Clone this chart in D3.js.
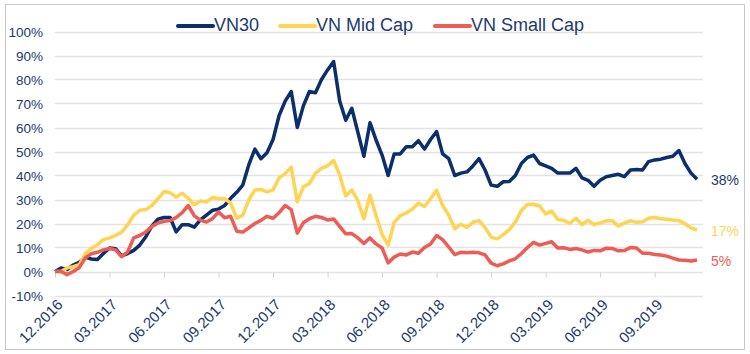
<!DOCTYPE html>
<html>
<head>
<meta charset="utf-8">
<script src="https://cdn.jsdelivr.net/npm/d3@7"></script>
<style>
    body { margin: 0; background: #fff; }
    text { font-family: "Liberation Sans", Arial, sans-serif; }
</style>
</head>
<body>
<svg id="chart"></svg>
<script>
// quarter tick labels, one every 3 months
var tickLabels = ['12.2016', '03.2017', '06.2017', '09.2017', '12.2017', '03.2018',
    '06.2018', '09.2018', '12.2018', '03.2019', '06.2019', '09.2019'];
var monthsPerPoint = 1 / 3;

var seriesNames = ['VN30', 'VN Mid Cap', 'VN Small Cap'];

var vn30 = [0, 1.5, 0.8, 2.7, 3.8, 6.0, 5.2, 5.0, 7.5, 9.8, 9.5, 6.5, 7.5, 8.8, 11, 14.5,
    19, 21.8, 22.5, 22.5, 16.5, 19.5, 19.5, 18.5, 21.5, 23.5, 25.5, 26, 27.5, 30.5, 33, 36,
    44.5, 51, 47, 49.5, 55, 65, 71, 75, 60, 69, 75, 74.5, 80, 84, 87.5, 71, 63, 68, 58, 48,
    62, 54.8, 48.5, 40, 49, 49, 52, 52, 54.5, 51, 55, 58.3, 49, 47, 40, 41, 41.5, 44, 47,
    42.3, 36, 35.5, 37.4, 37.5, 40, 45, 47.5, 48.5, 45, 44, 43, 41, 41, 41, 43, 39, 38,
    35.5, 38, 39.5, 40, 40.5, 39.5, 42.3, 42.5, 42.3, 45.8, 46.5, 46.8, 47.5, 48, 50.4, 45,
    41, 38.4];

var midCap = [0, 0, 1.5, 2, 2.8, 7.5, 9.6, 11.2, 13.3, 14, 15, 16.4, 19.5, 23.5, 25.5, 25.8,
    27.5, 30.3, 33.3, 32.8, 31, 32.6, 30.5, 27.8, 29.4, 29, 30.8, 30.3, 30.4, 28.5, 22.2,
    23.5, 29.8, 34, 34.2, 33.2, 34, 39, 40.8, 43.5, 29, 35.3, 36.6, 41, 43, 44, 46.3, 40.2,
    31.5, 34, 29.5, 22, 31.8, 23.3, 15.5, 11, 20.5, 23.3, 24.4, 26, 28.4, 27.1, 30.3, 33.8,
    27.5, 23.5, 17.8, 19.7, 18.4, 20.5, 21.2, 18.3, 14.3, 13.6, 15.4, 17.4, 20.7, 25.4, 27.9,
    28, 27.3, 24, 25.2, 21.7, 21.3, 20, 22.2, 19.6, 21.3, 19.6, 20.2, 21.1, 21.1, 19, 20.2,
    21.1, 20.5, 20.7, 22.2, 22.5, 22, 21.8, 21.5, 21.2, 19.9, 18.2, 17.2];

var smallCap = [0, 0, -1.3, 0, 1.6, 5.7, 7.4, 8, 9, 9.6, 9, 6.2, 8.2, 14, 15, 16.5, 18.8,
    20.2, 20.9, 21.2, 22.5, 24.5, 27.5, 23.2, 21.4, 20.6, 22, 24.8, 22.4, 23, 16.8, 16.4,
    18.2, 20, 21.3, 23, 22.2, 24.5, 27.5, 25.8, 16, 20.3, 22, 23, 22.5, 21.5, 21.9, 18.8,
    15.7, 15.8, 14, 11.7, 14, 11.5, 9.8, 3.6, 6, 7.3, 6.9, 8.1, 7.6, 10, 11.5, 15, 13.3,
    10.2, 7, 8, 7.8, 8, 7.8, 6.9, 3.5, 2.4, 3.2, 4.4, 5.3, 7.5, 10, 12.1, 11, 11.7, 12.4,
    9.8, 9.9, 9.2, 9.6, 9, 8.1, 8.8, 8.6, 9.7, 9.6, 8.6, 8.7, 10, 9.8, 7.6, 7.6, 7.1, 6.9,
    6.4, 5.6, 4.8, 4.7, 4.4, 4.8];

var endLabels = ['38%', '17%', '5%'];
var yTicks = [-10, 0, 10, 20, 30, 40, 50, 60, 70, 80, 90, 100];

var colors = ['#0b2f6c', '#ffd452', '#ef5b55'];
var textColor = '#1c3a6e';

var width = 750, height = 354;

var svg = d3.select('#chart')
    .attr('width', width)
    .attr('height', height);

svg.append('rect')
    .attr('x', 5.5).attr('y', 4.5)
    .attr('width', 739).attr('height', 345)
    .attr('fill', '#fff')
    .attr('stroke', '#c9c9c9');

var xScale = d3.scaleLinear()
    .domain([0, 35.66])
    .range([55, 703]);

var yScale = d3.scaleLinear()
    .domain([-10, 100])
    .range([295.5, 31.5]);

// gridlines
svg.append('g')
    .selectAll('line')
    .data(yTicks)
    .enter().append('line')
    .attr('x1', xScale.range()[0])
    .attr('x2', xScale.range()[1])
    .attr('y1', function(d) { return Math.round(yScale(d)) + 0.5; })
    .attr('y2', function(d) { return Math.round(yScale(d)) + 0.5; })
    .attr('stroke', '#e3e3e3')
    .attr('stroke-width', 1.3);

// y labels
svg.append('g')
    .selectAll('text')
    .data(yTicks)
    .enter().append('text')
    .attr('x', 43)
    .attr('y', function(d) { return yScale(d) + 5; })
    .attr('text-anchor', 'end')
    .attr('font-size', 13.5)
    .attr('fill', textColor)
    .text(function(d) { return d + '%'; });

// x axis sits on the 0% line, labels below the plot
var xAxis = d3.axisBottom(xScale)
    .tickValues(d3.range(tickLabels.length).map(function(i) { return i * 3; }))
    .tickSize(5)
    .tickFormat('');

var axisG = svg.append('g')
    .attr('transform', 'translate(0,' + (Math.round(yScale(0)) + 0.5) + ')')
    .call(xAxis);
axisG.select('.domain').remove();
axisG.selectAll('.tick line').attr('stroke', '#d0d0d0');

svg.append('g')
    .selectAll('text')
    .data(tickLabels)
    .enter().append('text')
    .attr('transform', function(d, i) {
        return 'translate(' + (xScale(i * 3) + 5) + ',302) rotate(-45)';
    })
    .attr('text-anchor', 'end')
    .attr('dy', '0.35em')
    .attr('font-size', 15)
    .attr('fill', textColor)
    .text(function(d) { return d; });

// lines
var line = d3.line()
    .x(function(d, i) { return xScale(i * monthsPerPoint); })
    .y(function(d) { return yScale(d); });

[vn30, midCap, smallCap].forEach(function(values, i) {
    svg.append('path')
        .datum(values)
        .attr('d', line)
        .attr('fill', 'none')
        .attr('stroke', colors[i])
        .attr('stroke-width', 3.5)
        .attr('stroke-linejoin', 'round');
});

// end value labels
[vn30, midCap, smallCap].forEach(function(values, i) {
    svg.append('text')
        .attr('x', 711)
        .attr('y', yScale(values[values.length - 1]) + 6)
        .attr('font-size', 14)
        .attr('fill', i === 0 ? textColor : colors[i])
        .text(endLabels[i]);
});

// legend
var legendX = [178, 280, 435];
var legend = svg.append('g').selectAll('g')
    .data(seriesNames)
    .enter().append('g')
    .attr('transform', function(d, i) { return 'translate(' + legendX[i] + ',26)'; });

legend.append('line')
    .attr('x1', 0).attr('x2', 35)
    .attr('stroke', function(d, i) { return colors[i]; })
    .attr('stroke-width', 4)
    .attr('stroke-linecap', 'round');

legend.append('text')
    .attr('x', 36)
    .attr('y', -1)
    .attr('dy', '0.35em')
    .attr('font-size', 18)
    .attr('fill', textColor)
    .text(function(d) { return d; });
</script>
</body>
</html>
